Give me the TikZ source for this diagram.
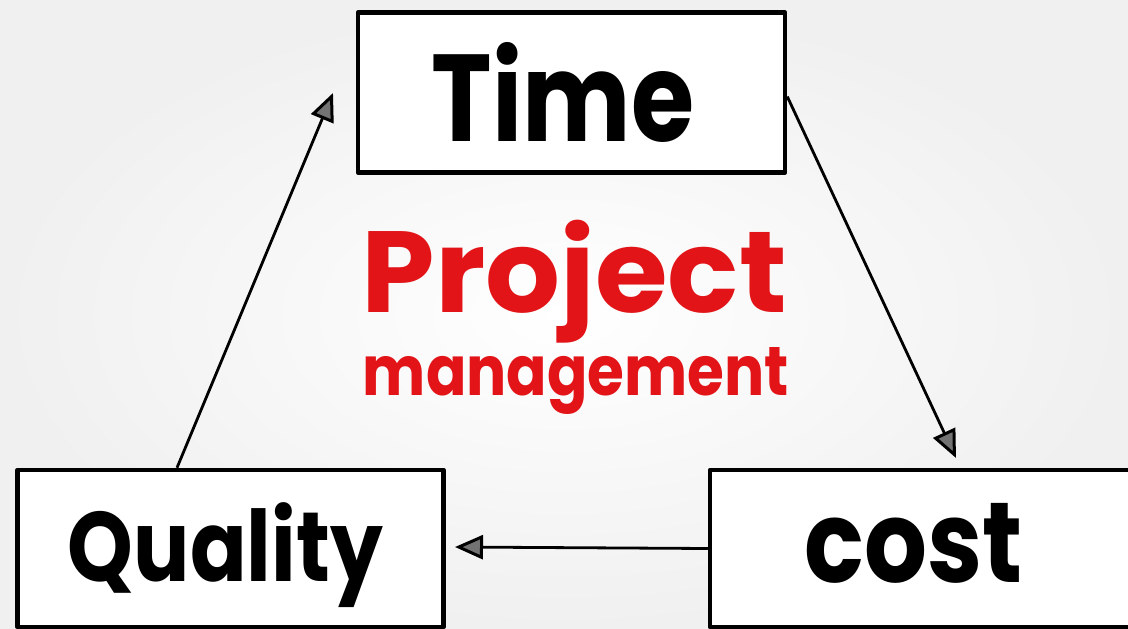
\documentclass[tikz,border=0pt]{standalone}
\usepackage{fontspec}
\setmainfont{Poppins}
\usetikzlibrary{arrows.meta}
\definecolor{pmred}{RGB}{226,20,24}
\definecolor{bgray}{RGB}{240,240,240}
\begin{document}
\begin{tikzpicture}[x=1pt,y=-1pt,
  box/.style={draw=black, line width=4.5pt, fill=white, rectangle, inner sep=0pt, line join=round},
  conn/.style={line width=2.8pt, -{Triangle[length=28pt,width=24pt,fill=black!55,line width=3pt]}},
  lbl/.style={inner sep=0pt, anchor=center, font=\bfseries}]
\useasboundingbox (0,0) rectangle (1128,629);
\clip (0,0) rectangle (1128,629);
\shade[inner color=white, outer color=bgray] (0,0) rectangle (1128,629);
% boxes
\node[box, minimum width=427pt, minimum height=160pt] (time) at (571.5,92.5) {};
\node[box, minimum width=426pt, minimum height=157pt] (quality) at (230.5,548.5) {};
\node[box, minimum width=430pt, minimum height=157pt] (cost) at (925,548.5) {};
% labels
\node[lbl] (timet) at (563,92) {\resizebox*{262pt}{100pt}{Time}};
\node[lbl] (qualt) at (225.5,555) {\resizebox*{315pt}{105pt}{Quality}};
\node[lbl] (costt) at (914,543) {\resizebox*{218pt}{80pt}{cost}};
\node[lbl, text=pmred] (proj) at (574.5,281.5) {\resizebox*{425pt}{123pt}{Project}};
\node[lbl, text=pmred] (mgmt) at (576,381) {\resizebox*{426pt}{67pt}{management}};
% connectors
\coordinate (tipT) at (333,93);
\coordinate (tipC) at (956,458);
\coordinate (tipQ) at (455,547);
\draw[conn] ([xshift=-53.5pt]quality.north) -- (tipT);
\draw[conn] ([yshift=-4pt]time.east) -- (tipC);
\draw[conn] (cost.west) -- (tipQ);
\end{tikzpicture}
\end{document}
